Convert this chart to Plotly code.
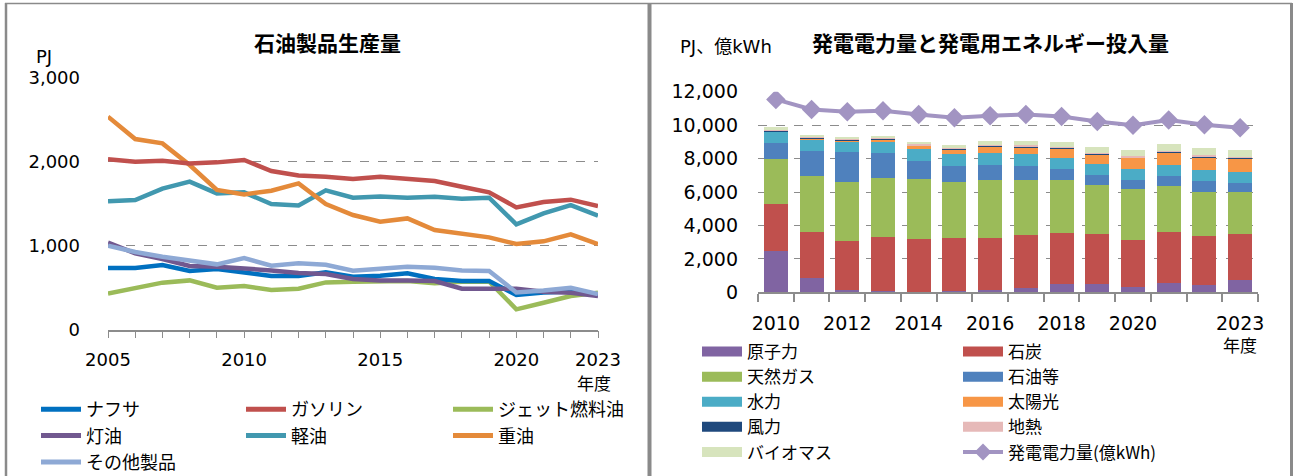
import plotly.graph_objects as go

W, H = 1293, 476

# ---------------- Left chart data: 石油製品生産量 (PJ) ----------------
years_l = list(range(2005, 2024))
naphtha  = [734, 734, 770, 698, 722, 679, 639, 639, 683, 631, 643, 671, 603, 579, 579, 413, 444, 456, 413]
gasoline = [2028, 2000, 2012, 1980, 1992, 2020, 1889, 1837, 1821, 1794, 1821, 1794, 1770, 1702, 1635, 1456, 1520, 1548, 1472]
jetfuel  = [429, 500, 560, 587, 500, 520, 472, 488, 563, 571, 571, 579, 552, 571, 575, 242, 321, 401, 440]
kerosene = [1036, 909, 841, 758, 750, 730, 706, 675, 663, 603, 587, 587, 579, 488, 488, 488, 452, 440, 401]
diesel   = [1528, 1544, 1679, 1762, 1623, 1635, 1496, 1480, 1659, 1571, 1587, 1571, 1583, 1560, 1571, 1254, 1385, 1484, 1357]
heavy    = [2536, 2270, 2218, 1960, 1663, 1611, 1655, 1742, 1496, 1365, 1286, 1325, 1187, 1139, 1099, 1020, 1052, 1135, 1020]
others   = [1000, 925, 869, 829, 778, 853, 762, 790, 774, 702, 730, 750, 738, 706, 698, 444, 468, 500, 425]
left_ticklabels = {2005: "2005", 2010: "2010", 2015: "2015", 2020: "2020", 2023: "2023"}

# ---------------- Right chart data: 発電用エネルギー投入量 (PJ) ----------------
years_r = list(range(2010, 2024))
nuclear  = [2460, 840, 120, 60, 0, 60, 120, 260, 520, 500, 300, 580, 460, 720]
coal     = [2840, 2740, 2920, 3260, 3160, 3160, 3120, 3140, 3020, 2960, 2840, 3000, 2920, 2740]
gas      = [2680, 3360, 3540, 3540, 3600, 3380, 3480, 3320, 3160, 2980, 3040, 2760, 2620, 2540]
oil      = [940, 1500, 1800, 1500, 1100, 960, 920, 840, 680, 560, 520, 600, 640, 520]
hydro    = [700, 720, 640, 660, 700, 700, 680, 700, 680, 660, 700, 700, 660, 660]
solar    = [40, 50, 100, 150, 220, 300, 400, 420, 560, 600, 660, 740, 800, 820]
wind     = [30, 40, 40, 40, 40, 50, 50, 50, 40, 40, 40, 60, 60, 60]
geo      = [60, 50, 50, 50, 50, 50, 50, 70, 40, 40, 40, 40, 40, 40]
biomass  = [110, 120, 110, 120, 150, 160, 240, 280, 300, 380, 400, 420, 420, 440]
power    = [11540, 10940, 10800, 10860, 10640, 10440, 10560, 10640, 10520, 10220, 10000, 10300, 10020, 9840]
right_tickvals = [2010, 2012, 2014, 2016, 2018, 2020, 2023]

TICKFONT = "DejaVu Sans, Noto Sans CJK JP, sans-serif"
JFONT = "Noto Sans CJK JP, DejaVu Sans, sans-serif"
GRID = "#8c8c8c"

def px_x(p):
    return p / W

def px_y(p):
    return 1 - p / H

fig = go.Figure()

# ---- left line traces ----
left_series = [
    ("ナフサ", naphtha, "#0070C0", "legend"),
    ("灯油", kerosene, "#71588F", "legend"),
    ("その他製品", others, "#8EA9D5", "legend"),
    ("ガソリン", gasoline, "#C0504D", "legend2"),
    ("軽油", diesel, "#4198AF", "legend2"),
    ("ジェット燃料油", jetfuel, "#9BBB59", "legend3"),
    ("重油", heavy, "#E48A3A", "legend3"),
]
draw_order = ["ジェット燃料油", "ナフサ", "灯油", "その他製品", "軽油", "重油", "ガソリン"]
lookup = {s[0]: s for s in left_series}
for name in draw_order:
    _, vals, col, lg = lookup[name]
    fig.add_trace(go.Scatter(
        x=years_l, y=vals, mode="lines", name=name,
        line=dict(color=col, width=4.5), xaxis="x", yaxis="y",
        showlegend=False, hoverinfo="skip"))
for name, vals, col, lg in left_series:
    fig.add_trace(go.Scatter(
        x=[None], y=[None], mode="lines", name=name,
        line=dict(color=col, width=5), xaxis="x", yaxis="y",
        legend=lg, showlegend=True))

# ---- right stacked bars ----
bar_series = [
    ("原子力", nuclear, "#8064A2", "legend4"),
    ("石炭", coal, "#C0504D", "legend5"),
    ("天然ガス", gas, "#9BBB59", "legend4"),
    ("石油等", oil, "#4F81BD", "legend5"),
    ("水力", hydro, "#4BACC6", "legend4"),
    ("太陽光", solar, "#F79646", "legend5"),
    ("風力", wind, "#1F497D", "legend4"),
    ("地熱", geo, "#E6B9B8", "legend5"),
    ("バイオマス", biomass, "#D7E4BD", "legend4"),
]
for name, vals, col, lg in bar_series:
    fig.add_trace(go.Bar(
        x=years_r, y=vals, name=name, marker=dict(color=col, line=dict(width=0)),
        xaxis="x2", yaxis="y2", showlegend=False))
fig.add_trace(go.Scatter(
    x=years_r, y=power, mode="lines+markers", name="発電電力量(億kWh)",
    line=dict(color="#A294C2", width=4),
    marker=dict(symbol="diamond", size=15, color="#A294C2"),
    xaxis="x2", yaxis="y2", showlegend=False))

for name, vals, col, lg in bar_series:
    fig.add_trace(go.Scatter(
        x=[None], y=[None], mode="lines", name=name,
        line=dict(color=col, width=11), xaxis="x2", yaxis="y2",
        legend=lg, showlegend=True))
fig.add_trace(go.Scatter(
    x=[None], y=[None], mode="lines+markers", name="発電電力量(億kWh)",
    line=dict(color="#A294C2", width=4),
    marker=dict(symbol="diamond", size=13, color="#A294C2"),
    xaxis="x2", yaxis="y2", legend="legend5", showlegend=True))

# ---- axes ----
fig.update_layout(
    width=W, height=H,
    margin=dict(l=0, r=0, t=0, b=0, autoexpand=False),
    paper_bgcolor="white", plot_bgcolor="white",
    barmode="stack", bargap=0.33,
    xaxis=dict(
        domain=[px_x(108), px_x(598)], range=[2005, 2023], anchor="y",
        tickmode="array", tickvals=years_l,
        ticktext=[left_ticklabels.get(y, "") for y in years_l],
        ticks="outside", ticklen=7, tickcolor=GRID, tickwidth=1,
        showline=True, linecolor=GRID, linewidth=1.5,
        showgrid=False, zeroline=False,
        tickfont=dict(family=TICKFONT, size=18, color="#000"),
        ticklabelstandoff=6, fixedrange=True),
    yaxis=dict(
        domain=[px_y(329.7), px_y(77.7)], range=[0, 3000], anchor="x",
        tickvals=[0, 1000, 2000, 3000], tickformat=",",
        showgrid=True, gridcolor=GRID, griddash="dash", gridwidth=1,
        showline=False, zeroline=False, ticks="",
        tickfont=dict(family=TICKFONT, size=18, color="#000"),
        ticklabelstandoff=27, fixedrange=True),
    xaxis2=dict(
        domain=[px_x(758), px_x(1258)], range=[2009.5, 2023.5], anchor="y2",
        tickmode="array", tickvals=right_tickvals,
        ticktext=[str(v) for v in right_tickvals],
        ticks="", showline=True, linecolor=GRID, linewidth=1.5,
        showgrid=False, zeroline=False,
        minor=dict(ticks="outside", tick0=2009.5, dtick=1, ticklen=8,
                   tickcolor=GRID, tickwidth=1.5, showgrid=False),
        tickfont=dict(family=TICKFONT, size=19, color="#000"),
        ticklabelstandoff=13, fixedrange=True),
    yaxis2=dict(
        domain=[px_y(292.3), px_y(91.7)], range=[0, 12000], anchor="x2",
        tickvals=list(range(0, 12001, 2000)), tickformat=",",
        showgrid=True, gridcolor=GRID, griddash="dash", gridwidth=1,
        showline=False, zeroline=False, ticks="",
        tickfont=dict(family=TICKFONT, size=19, color="#000"),
        ticklabelstandoff=19, fixedrange=True),
)

def legend_cfg(xp, yp, size, itemwidth=40):
    return dict(
        x=px_x(xp), y=px_y(yp), xanchor="left", yanchor="top",
        orientation="v", bgcolor="rgba(0,0,0,0)", borderwidth=0,
        font=dict(family=JFONT, size=size, color="#000"),
        itemwidth=itemwidth, tracegroupgap=0, itemclick=False, itemdoubleclick=False,
        traceorder="normal")

fig.update_layout(
    legend=legend_cfg(36, 391, 18),
    legend2=legend_cfg(241, 391, 18),
    legend3=legend_cfg(448, 391, 18),
    legend4=legend_cfg(697, 334, 17),
    legend5=legend_cfg(958, 334, 17),
)

def ann(text, xp, yp, size, family, xanchor="center"):
    return dict(text=text, x=px_x(xp), y=px_y(yp), xref="paper", yref="paper",
                showarrow=False, xanchor=xanchor, yanchor="middle",
                font=dict(family=family, size=size, color="#000"))

annotations = [
    ann("<b>石油製品生産量</b>", 327, 42, 21, JFONT),
    ann("PJ", 44, 56, 18, TICKFONT),
    ann("年度", 594, 382, 17, JFONT),
    ann("<b>発電電力量と発電用エネルギー投入量</b>", 990, 42, 21, JFONT),
    ann("PJ、億kWh", 678, 47, 18, TICKFONT, xanchor="left"),
    ann("年度", 1240, 344, 17, JFONT),
]
fig.update_layout(annotations=annotations)

BORDER = "#8a8a8a"
shapes = [
    dict(type="line", xref="paper", yref="paper", x0=px_x(5), x1=px_x(1292), y0=px_y(3.5), y1=px_y(3.5),
         line=dict(color=BORDER, width=1.5)),
    dict(type="line", xref="paper", yref="paper", x0=px_x(6), x1=px_x(6), y0=px_y(3), y1=px_y(476),
         line=dict(color=BORDER, width=2.5)),
    dict(type="line", xref="paper", yref="paper", x0=px_x(649.5), x1=px_x(649.5), y0=px_y(3), y1=px_y(476),
         line=dict(color=BORDER, width=4)),
    dict(type="line", xref="paper", yref="paper", x0=px_x(1291.5), x1=px_x(1291.5), y0=px_y(3), y1=px_y(476),
         line=dict(color=BORDER, width=3)),
]
fig.update_layout(shapes=shapes)

fig.write_html("out.html", config={"displayModeBar": False},
               post_script="document.body.style.margin='0px';document.body.style.padding='0px';")
